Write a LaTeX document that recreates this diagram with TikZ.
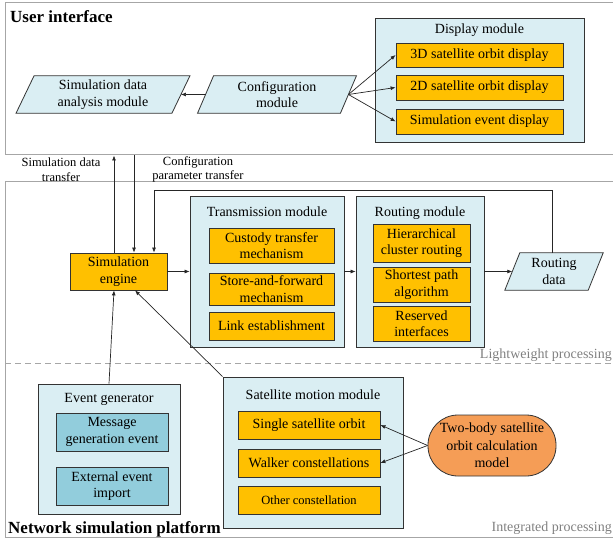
\documentclass[tikz,border=0pt]{standalone}
\usepackage{fontspec}
\setmainfont{Liberation Serif}
\usetikzlibrary{arrows.meta}
\definecolor{lblue}{HTML}{DAEEF3}
\definecolor{orng}{HTML}{FFC000}
\definecolor{mblue}{HTML}{92CDDC}
\definecolor{salmon}{HTML}{F59D56}
\definecolor{framegray}{HTML}{A6A6A6}
\definecolor{edgec}{HTML}{333333}
\definecolor{txtgray}{HTML}{808080}
\newcommand\tfont{\fontsize{14}{16.5}\selectfont}
\newcommand\sfont{\fontsize{12.5}{14.5}\selectfont}
\newcommand\bfont{\fontsize{17}{20}\selectfont\bfseries}
\pgfdeclarelayer{bg}
\pgfsetlayers{bg,main}
\begin{document}
\begin{tikzpicture}[x=1pt,y=-1pt,
  frame/.style={draw=framegray, line width=1pt, inner sep=0},
  modbox/.style={draw=edgec, fill=lblue, line width=0.8pt, inner sep=0},
  obox/.style={draw=edgec, fill=orng, line width=0.8pt, inner sep=0, align=center, font=\tfont},
  bbox/.style={draw=edgec, fill=mblue, line width=0.8pt, inner sep=0, align=center, font=\tfont},
  ptext/.style={inner sep=0, align=center, font=\tfont},
  ttl/.style={inner sep=0, font=\tfont},
  arr/.style={-{Latex[length=5pt,width=4pt]}, line width=0.7pt, draw=black!85},
  ln/.style={line width=0.7pt, draw=black!85}]
\useasboundingbox (0,0) rectangle (613,540);
% frames
\node[frame, minimum width=625, minimum height=152] (ui) at (317.5,79) {};
\node[frame, minimum width=625, minimum height=355] (net) at (317.5,359.5) {};
\draw[framegray, line width=0.8pt, dash pattern=on 6pt off 4pt] (5,363) -- (613,363);
\node[inner sep=0, anchor=west, font=\bfont] (uit) at (10,17) {User interface};
\node[inner sep=0, anchor=west, font=\bfont] (nst) at (8,529) {Network simulation platform};
\node[inner sep=0, anchor=east, font=\tfont, text=txtgray] (lwp) at (612,355) {Lightweight processing};
\node[inner sep=0, anchor=east, font=\tfont, text=txtgray] (itp) at (612,528) {Integrated processing};

% user interface
\node[ptext, minimum width=155.5, minimum height=37] (ana) at (103,94.5) {Simulation data\\analysis module};
\node[ptext, minimum width=142.5, minimum height=37] (cfg) at (277,94.5) {Configuration\\module};
\begin{pgfonlayer}{bg}
\draw[modbox] ([xshift=-9]ana.south west) -- ([xshift=9]ana.north west) -- ([xshift=9]ana.north east) -- ([xshift=-9]ana.south east) -- cycle;
\draw[modbox] ([xshift=-8]cfg.south west) -- ([xshift=8]cfg.north west) -- ([xshift=8]cfg.north east) -- ([xshift=-8]cfg.south east) -- cycle;
\end{pgfonlayer}
\node[modbox, minimum width=209, minimum height=124] (disp) at (479.5,80) {};
\node[ttl] (dispt) at (479.5,30) {Display module};
\node[obox, minimum width=167, minimum height=24] (d3) at (479.5,55) {3D satellite orbit display};
\node[obox, minimum width=167, minimum height=25] (d2) at (479.5,87.5) {2D satellite orbit display};
\node[obox, minimum width=167, minimum height=25] (dse) at (479.5,121.5) {Simulation event display};
\draw[arr] (cfg.west) -- (ana.east);
\draw[arr] (cfg.east) -- (d3.west);
\draw[arr] (cfg.east) -- (d2.west);
\draw[arr] (cfg.east) -- (dse.west);

% transfer labels
\node[ptext, font=\sfont, align=center] (sdt) at (61,169.5) {Simulation data\\transfer};
\node[ptext, font=\sfont, align=center] (cpt) at (198,169.5) {Configuration\\parameter transfer};

% engine and modules
\node[obox, minimum width=97, minimum height=37] (eng) at (118.5,271.5) {Simulation\\engine};
\node[modbox, minimum width=154, minimum height=151] (trans) at (267,271.5) {};
\node[ttl] (transt) at (267,212) {Transmission module};
\node[obox, minimum width=125, minimum height=35] (t1) at (271.5,245.5) {Custody transfer\\mechanism};
\node[obox, minimum width=125, minimum height=32] (t2) at (271.5,289) {Store-and-forward\\mechanism};
\node[obox, minimum width=125, minimum height=28] (t3) at (271.5,326) {Link establishment};
\node[modbox, minimum width=128, minimum height=151] (rout) at (420,271.5) {};
\node[ttl] (routt) at (420,213) {Routing module};
\node[obox, minimum width=97, minimum height=38] (r1) at (421.5,243) {Hierarchical\\cluster routing};
\node[obox, minimum width=97, minimum height=35] (r2) at (421.5,284.5) {Shortest path\\algorithm};
\node[obox, minimum width=97, minimum height=35] (r3) at (421.5,323.5) {Reserved\\interfaces};
\node[ptext, minimum width=83, minimum height=37] (rd) at (554,271.5) {Routing\\data};
\begin{pgfonlayer}{bg}
\draw[modbox] ([xshift=-7.5]rd.south west) -- ([xshift=7.5]rd.north west) -- ([xshift=7.5]rd.north east) -- ([xshift=-7.5]rd.south east) -- cycle;
\end{pgfonlayer}

\draw[arr] ([xshift=-4.5]eng.north) -- ([xshift=-4.5]eng.north |- ui.south);
\draw[arr] ([xshift=15.5]eng.north |- ui.south) -- ([xshift=15.5]eng.north);
\draw[arr] ([xshift=-2]rd.north) |- ([xshift=35.5,yshift=62]eng.north) -- ([xshift=35.5]eng.north);
\draw[arr] (eng.east) -- (trans.west);
\draw[arr] (trans.east) -- (rout.west);
\draw[arr] (rout.east) -- (rd.west);

% event generator
\node[modbox, minimum width=142, minimum height=130] (eg) at (109,449) {};
\node[ttl] (egt) at (109,399) {Event generator};
\node[bbox, minimum width=112, minimum height=38] (e1) at (112,432) {Message\\generation event};
\node[bbox, minimum width=112, minimum height=38] (e2) at (112,486) {External event\\import};

% satellite motion
\node[modbox, minimum width=180, minimum height=151] (sm) at (313,452.5) {};
\node[ttl] (smt) at (313,395) {Satellite motion module};
\node[obox, minimum width=142, minimum height=28] (s1) at (309,425) {Single satellite orbit};
\node[obox, minimum width=142, minimum height=28] (s2) at (309,463) {Walker constellations};
\node[obox, minimum width=142, minimum height=28, font=\sfont] (s3) at (309,500) {Other constellation};
\node[draw=edgec, fill=salmon, line width=0.8pt, rounded corners=30pt, minimum width=128, minimum height=61, inner sep=0, align=center, font=\fontsize{14}{17.5}\selectfont] (tb) at (492,445.5) {Two-body satellite\\orbit calculation\\model};

\draw[arr] (eg.north) -- ([xshift=-4.5]eng.south);
\draw[arr] (sm.north west) -- ([xshift=16.5]eng.south);
\draw[arr] (tb.west) -- (s1.east);
\draw[arr] (tb.west) -- (s2.east);
\end{tikzpicture}
\end{document}
